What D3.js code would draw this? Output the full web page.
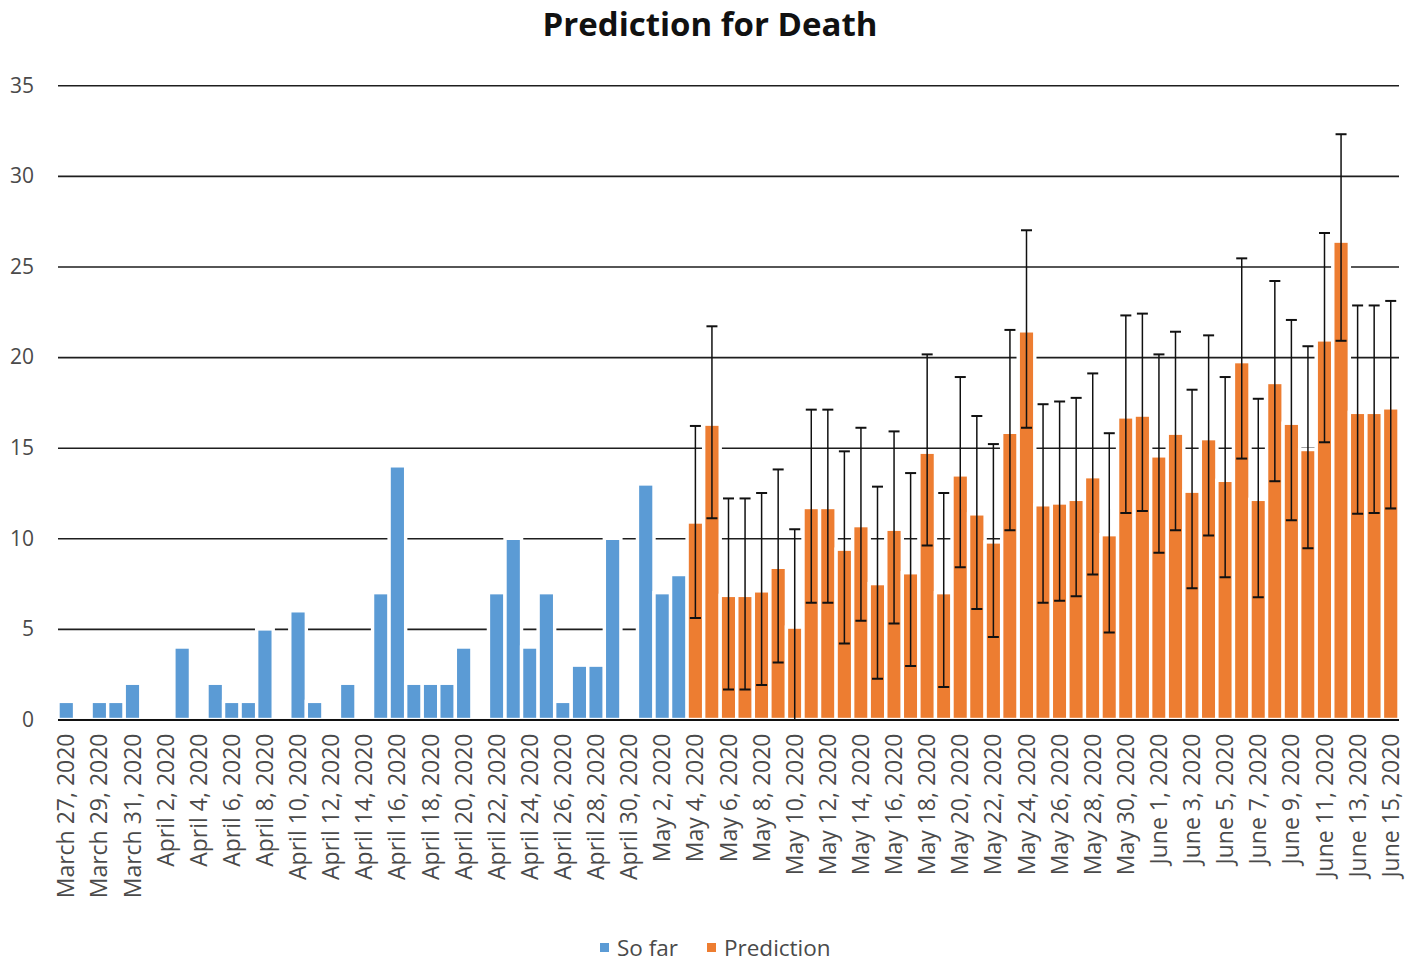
<!DOCTYPE html>
<html><head><meta charset="utf-8">
<script src="https://cdn.jsdelivr.net/npm/d3@7/dist/d3.min.js"></script>
<style>body{margin:0;background:#fff;} text{font-family:"Open Sans",sans-serif;}</style>
</head><body><svg id="c" width="1411" height="962"></svg>
<script>
const categories = [
"March 27, 2020","March 28, 2020","March 29, 2020","March 30, 2020","March 31, 2020",
"April 1, 2020","April 2, 2020","April 3, 2020","April 4, 2020","April 5, 2020","April 6, 2020","April 7, 2020","April 8, 2020","April 9, 2020","April 10, 2020",
"April 11, 2020","April 12, 2020","April 13, 2020","April 14, 2020","April 15, 2020","April 16, 2020","April 17, 2020","April 18, 2020","April 19, 2020","April 20, 2020",
"April 21, 2020","April 22, 2020","April 23, 2020","April 24, 2020","April 25, 2020","April 26, 2020","April 27, 2020","April 28, 2020","April 29, 2020","April 30, 2020",
"May 1, 2020","May 2, 2020","May 3, 2020","May 4, 2020","May 5, 2020","May 6, 2020","May 7, 2020","May 8, 2020","May 9, 2020","May 10, 2020",
"May 11, 2020","May 12, 2020","May 13, 2020","May 14, 2020","May 15, 2020","May 16, 2020","May 17, 2020","May 18, 2020","May 19, 2020","May 20, 2020",
"May 21, 2020","May 22, 2020","May 23, 2020","May 24, 2020","May 25, 2020","May 26, 2020","May 27, 2020","May 28, 2020","May 29, 2020","May 30, 2020","May 31, 2020",
"June 1, 2020","June 2, 2020","June 3, 2020","June 4, 2020","June 5, 2020","June 6, 2020","June 7, 2020","June 8, 2020","June 9, 2020","June 10, 2020",
"June 11, 2020","June 12, 2020","June 13, 2020","June 14, 2020","June 15, 2020"
];
// "So far" series: March 27 – May 3
const soFarDates = categories.slice(0, 38);
const soFar = [1,0,1,1,2, 0,0,4,0,2,1,1,5,0,6, 1,0,2,0,7,14,2,2,2,4, 0,7,10,4,7,1,3,3,10,0, 13,7,8];
// "Prediction" series: May 4 – June 15
const predDates = categories.slice(38);
const prediction = [10.9,16.3,6.85,6.85,7.1,8.4,5.1,11.7,11.7,9.4,
  10.7,7.5,10.5,8.1,14.75,7.0,13.5,11.35,9.8,15.85,
  21.45,11.85,11.95,12.15,13.4,10.2,16.7,16.8,
  14.55,15.8,12.6,15.5,13.2,19.75,12.15,18.6,16.35,14.9,20.95,26.4,16.95,16.95,17.2];
const predUpper = [16.2,21.7,12.2,12.2,12.5,13.8,10.5,17.1,17.1,14.8,
  16.1,12.85,15.9,13.6,20.15,12.5,18.9,16.75,15.2,21.5,
  27.0,17.4,17.55,17.75,19.1,15.8,22.3,22.4,
  20.15,21.4,18.2,21.2,18.9,25.45,17.7,24.2,22.05,20.6,26.85,32.3,22.85,22.85,23.1];
const predLower = [5.6,11.1,1.65,1.65,1.9,3.15,-0.2,6.45,6.45,4.2,
  5.45,2.25,5.3,2.95,9.6,1.8,8.4,6.1,4.55,10.45,
  16.1,6.45,6.55,6.8,8.0,4.8,11.4,11.5,
  9.2,10.45,7.25,10.15,7.85,14.4,6.75,13.15,11.0,9.45,15.3,20.9,11.35,11.4,11.65];
const yTicks = [0,5,10,15,20,25,30,35];
const seriesNames = ["So far","Prediction"];
const seriesColors = ["#5B9BD5","#ED7D31"];
const titleText = "Prediction for Death";

(function(){
const svg = d3.select("#c");
const pLeft = 58, pRight = 1399, pBottom = 719.5, pTop = 85.3;
const x = d3.scaleBand().domain(categories).range([pLeft, pRight]).padding(0);
const y = d3.scaleLinear().domain([0, 35]).range([pBottom, pTop]);
const bw = x.bandwidth();

svg.append("rect").attr("width",1411).attr("height",962).attr("fill","#fff");

// gridlines
const grid = svg.append("g").attr("transform",`translate(${pLeft},0)`)
  .call(d3.axisLeft(y).tickValues(yTicks.slice(1)).tickSize(-(pRight-pLeft)).tickFormat(""));
grid.select(".domain").remove();
grid.selectAll("line").attr("stroke","#1e1e1e").attr("stroke-width",1.6);

// y labels
const ya = svg.append("g").attr("transform",`translate(${pLeft},0)`)
  .call(d3.axisLeft(y).tickValues(yTicks).tickSize(0).tickPadding(24));
ya.select(".domain").remove();
ya.selectAll("text").attr("font-size",21).attr("fill","#4a4a4a").attr("font-family","Open Sans, sans-serif");

// bars
const barG = svg.append("g");
barG.selectAll("rect.sf").data(soFar.map((v,i)=>({c:soFarDates[i],v})).filter(d=>d.v>0))
  .join("rect").attr("class","sf")
  .attr("x",d=>x(d.c)).attr("width",bw)
  .attr("y",d=>y(d.v)).attr("height",d=>y(0)-y(d.v))
  .attr("fill",seriesColors[0]).attr("stroke","#fff").attr("stroke-width",3.4);
barG.selectAll("rect.pr").data(prediction.map((v,i)=>({c:predDates[i],v})))
  .join("rect").attr("class","pr")
  .attr("x",d=>x(d.c)).attr("width",bw)
  .attr("y",d=>y(d.v)).attr("height",d=>y(0)-y(d.v))
  .attr("fill",seriesColors[1]).attr("stroke","#fff").attr("stroke-width",3.4);

// x axis line
svg.append("line").attr("x1",pLeft).attr("x2",pRight).attr("y1",y(0)+0.5).attr("y2",y(0)+0.5)
  .attr("stroke","#111").attr("stroke-width",2);

// error bars
svg.append("clipPath").attr("id","clip").append("rect").attr("x",0).attr("y",0).attr("width",1411).attr("height",y(0));
const eg = svg.append("g").attr("clip-path","url(#clip)");
const errData = prediction.map((v,i)=>({c:predDates[i],hi:predUpper[i],lo:predLower[i]}));
const cap = 11;
eg.selectAll("line.v").data(errData).join("line").attr("class","v")
  .attr("x1",d=>x(d.c)+bw/2).attr("x2",d=>x(d.c)+bw/2)
  .attr("y1",d=>y(d.hi)).attr("y2",d=>y(d.lo))
  .attr("stroke","#111").attr("stroke-width",1.5);
eg.selectAll("line.hc").data(errData).join("line").attr("class","hc")
  .attr("x1",d=>x(d.c)+bw/2-cap/2).attr("x2",d=>x(d.c)+bw/2+cap/2)
  .attr("y1",d=>y(d.hi)).attr("y2",d=>y(d.hi))
  .attr("stroke","#111").attr("stroke-width",2);
eg.selectAll("line.lc").data(errData).join("line").attr("class","lc")
  .attr("x1",d=>x(d.c)+bw/2-cap/2).attr("x2",d=>x(d.c)+bw/2+cap/2)
  .attr("y1",d=>y(d.lo)).attr("y2",d=>y(d.lo))
  .attr("stroke","#111").attr("stroke-width",2);

// x labels
const xa = svg.append("g").attr("transform",`translate(0,${pBottom})`)
  .call(d3.axisBottom(x).tickValues(categories.filter((d,i)=>i%2===0)).tickSize(0).tickPadding(0));
xa.select(".domain").remove();
xa.selectAll("text")
  .attr("font-size",23).attr("fill","#4a4a4a").attr("font-family","Open Sans, sans-serif")
  .attr("text-anchor","end").attr("dy","0.35em")
  .attr("transform","translate(0,14) rotate(-90)")
  .attr("y",0).attr("x",0);

// title
svg.append("text").attr("x",710).attr("y",36).attr("text-anchor","middle")
  .attr("font-size",33).attr("font-weight","bold").attr("fill","#111").text(titleText);

// legend
const lg = svg.append("g");
const legX = [600, 707];
seriesNames.forEach((n,i)=>{
  lg.append("rect").attr("x",legX[i]).attr("y",943).attr("width",9).attr("height",9).attr("fill",seriesColors[i]);
  lg.append("text").attr("x",legX[i]+17).attr("y",956).attr("font-size",22.5).attr("fill","#4a4a4a").text(n);
});
})();
</script></body></html>
